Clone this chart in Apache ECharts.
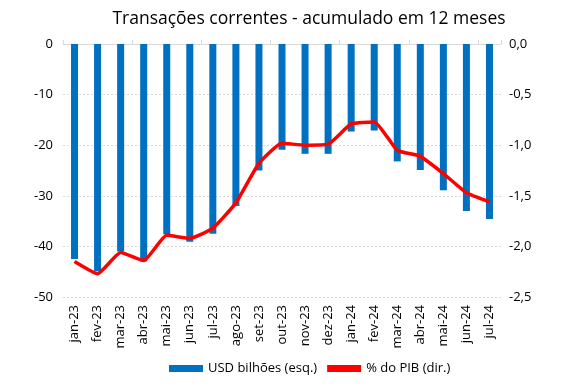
<!DOCTYPE html>
<html>
<head>
<meta charset="utf-8">
<script src="https://cdn.jsdelivr.net/npm/echarts@6/dist/echarts.min.js"></script>
<style>html,body{margin:0;padding:0;background:#fff}#c{width:575px;height:384px}</style>
</head>
<body>
<div id="c"></div>
<script>
const categories = ['jan-23','fev-23','mar-23','abr-23','mai-23','jun-23','jul-23','ago-23','set-23','out-23','nov-23','dez-23','jan-24','fev-24','mar-24','abr-24','mai-24','jun-24','jul-24'];
const usdBilhoes = [-42.5,-44.9,-41.0,-43.0,-37.6,-39.1,-37.5,-32.0,-25.0,-20.9,-21.7,-21.7,-17.3,-17.1,-23.2,-24.9,-28.9,-33.0,-34.6];
const pctPib = [-2.15,-2.27,-2.06,-2.14,-1.89,-1.92,-1.82,-1.57,-1.18,-0.98,-1.00,-0.99,-0.79,-0.77,-1.05,-1.11,-1.28,-1.47,-1.56];
const leftTicks = {min:-50, max:0, interval:10};
const rightTicks = {min:-2.5, max:0, interval:0.5};
const FONT = "'Open Sans', sans-serif";

const chart = echarts.init(document.getElementById('c'), null, {renderer:'canvas'});
chart.setOption({
  animation:false,
  backgroundColor:'#fff',
  title:{
    text:'Transações correntes - acumulado em 12 meses',
    left:304, top:5, textAlign:'center',
    textStyle:{fontFamily:FONT, fontSize:17.5, fontWeight:'normal', color:'#000'}
  },
  legend:{
    bottom:4, left:164, itemGap:10, itemWidth:34, itemHeight:7,
    textStyle:{fontFamily:FONT, fontSize:13, color:'#000'},
    data:[{name:'USD bilhões (esq.)', icon:'rect'},{name:'% do PIB (dir.)', icon:'rect'}]
  },
  grid:{left:63, right:74, top:44, bottom:87},
  xAxis:[
    {type:'category', data:categories, position:'bottom',
     axisLine:{show:false}, axisTick:{show:false},
     axisLabel:{rotate:90, fontFamily:FONT, fontSize:13, color:'#000', margin:8}},
    {type:'category', data:categories, position:'top',
     axisLine:{show:true, onZero:false, lineStyle:{color:'#d9d9d9'}},
     axisTick:{show:true, length:4, lineStyle:{color:'#d9d9d9'}},
     axisLabel:{show:false}}
  ],
  yAxis:[
    {type:'value', min:leftTicks.min, max:leftTicks.max, interval:leftTicks.interval,
     axisLine:{show:false}, axisTick:{show:false},
     axisLabel:{fontFamily:FONT, fontSize:13, color:'#000', margin:10},
     splitLine:{lineStyle:{color:'#d9d9d9', type:[2,2]}}},
    {type:'value', min:rightTicks.min, max:rightTicks.max, interval:rightTicks.interval,
     position:'right', axisLine:{show:false}, axisTick:{show:false},
     axisLabel:{fontFamily:FONT, fontSize:13, color:'#000', margin:8,
       formatter:v=>v.toFixed(1).replace('.',',')},
     splitLine:{show:false}}
  ],
  series:[
    {name:'USD bilhões (esq.)', type:'bar', xAxisIndex:0, yAxisIndex:0, data:usdBilhoes,
     barWidth:7, itemStyle:{color:'#0070C0'}},
    {name:'% do PIB (dir.)', type:'line', xAxisIndex:0, yAxisIndex:1, data:pctPib,
     smooth:0.15, symbol:'none', lineStyle:{color:'#FF0000', width:3.5}, itemStyle:{color:'#FF0000'}}
  ]
});
</script>
</body>
</html>
